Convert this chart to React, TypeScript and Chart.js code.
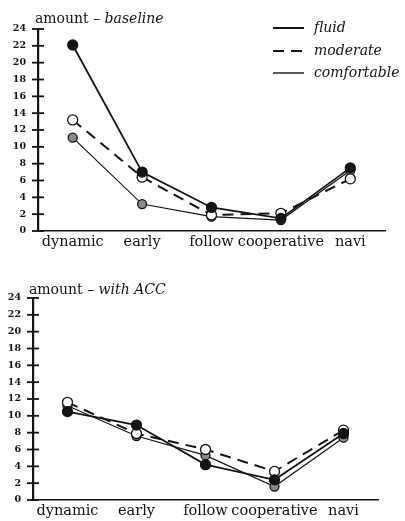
import React, { useEffect, useRef } from "react";
import { Chart, registerables } from "chart.js";

Chart.register(...registerables);

const categories = ["dynamic", "early", "follow", "cooperative", "navi"];
const yTicks = [0, 2, 4, 6, 8, 10, 12, 14, 16, 18, 20, 22, 24];
const seriesNames = ["fluid", "moderate", "comfortable"];

const baselineFluid = [22.1, 7.0, 2.8, 1.5, 7.5];
const baselineModerate = [13.2, 6.4, 1.9, 2.1, 6.2];
const baselineComfortable = [11.1, 3.2, 1.7, 1.3, 7.2];

const accFluid = [10.5, 8.9, 4.2, 2.4, 7.9];
const accModerate = [11.6, 7.9, 6.0, 3.4, 8.3];
const accComfortable = [11.2, 7.6, 5.3, 1.6, 7.4];

const SERIF = "'DejaVu Serif', 'Liberation Serif', serif";
const INK = "#141414";

type Style = { width: number; dash: number[]; fill: string; radius: number };
const styles: Style[] = [
  { width: 1.8, dash: [], fill: INK, radius: 5 },
  { width: 2, dash: [11, 7], fill: "#ffffff", radius: 5 },
  { width: 1.2, dash: [], fill: "#8a8a8a", radius: 4.5 },
];

type Cfg = {
  title: string;
  titleItalic: string;
  values: number[][];
  width: number;
  height: number;
  axisLeft: number;
  areaTop: number;
  areaBottom: number;
  areaRight: number;
  titleX: number;
  titleY: number;
  legend: boolean;
};

function LineChart({ cfg, top }: { cfg: Cfg; top: number }) {
  const ref = useRef<HTMLCanvasElement | null>(null);
  useEffect(() => {
    if (!ref.current) return;
    const decor = {
      id: "decor",
      afterDraw(chart: any) {
        const ctx = chart.ctx;
        const area = chart.chartArea;
        const ys = chart.scales.y;
        ctx.save();
        ctx.strokeStyle = INK;
        ctx.lineWidth = 1.8;
        for (const t of yTicks) {
          const py = ys.getPixelForValue(t);
          ctx.beginPath();
          ctx.moveTo(area.left - 6, py);
          ctx.lineTo(area.left + 6, py);
          ctx.stroke();
        }
        ctx.fillStyle = INK;
        ctx.textBaseline = "alphabetic";
        ctx.textAlign = "left";
        ctx.font = `14px ${SERIF}`;
        ctx.fillText(cfg.title, cfg.titleX, cfg.titleY);
        const w = ctx.measureText(cfg.title).width;
        ctx.font = `italic 14px ${SERIF}`;
        ctx.fillText(cfg.titleItalic, cfg.titleX + w, cfg.titleY);
        if (cfg.legend) {
          const baselines = [32, 55, 77];
          seriesNames.forEach((name, i) => {
            const by = baselines[i];
            ctx.beginPath();
            ctx.lineWidth = i === 2 ? 1.4 : 2;
            ctx.setLineDash(i === 1 ? [11, 7] : []);
            ctx.moveTo(273, by - 4);
            ctx.lineTo(304, by - 4);
            ctx.stroke();
            ctx.setLineDash([]);
            ctx.font = `italic 14px ${SERIF}`;
            ctx.fillText(name, 314, by);
          });
        }
        ctx.restore();
      },
    };
    const chart = new Chart(ref.current, {
      type: "line",
      data: {
        labels: categories,
        datasets: cfg.values.map((v, i) => ({
          label: seriesNames[i],
          data: v,
          borderColor: INK,
          borderWidth: styles[i].width,
          borderDash: styles[i].dash,
          pointRadius: styles[i].radius,
          pointBackgroundColor: styles[i].fill,
          pointBorderColor: INK,
          pointBorderWidth: 1.3,
          tension: 0,
          fill: false,
        })),
      },
      options: {
        responsive: false,
        animation: false,
        layout: {
          padding: {
            top: cfg.areaTop,
            left: 0,
            right: cfg.width - cfg.areaRight,
            bottom: 0,
          },
        },
        plugins: {
          legend: { display: false },
          title: { display: false },
          tooltip: { enabled: false },
        },
        scales: {
          x: {
            type: "category",
            offset: true,
            grid: { display: false, drawTicks: false },
            border: { display: true, color: INK, width: 1.6 },
            ticks: {
              color: INK,
              padding: 3,
              maxRotation: 0,
              autoSkip: false,
              font: { family: SERIF, size: 14.5 },
            },
            afterFit: (scale: any) => {
              scale.height = cfg.height - cfg.areaBottom;
            },
          },
          y: {
            type: "linear",
            min: 0,
            max: 24,
            grid: { display: false, drawTicks: false },
            border: { display: true, color: INK, width: 2.2 },
            ticks: {
              stepSize: 2,
              color: INK,
              padding: 12,
              font: { family: SERIF, size: 9.5, weight: "bold" },
            },
            afterFit: (scale: any) => {
              scale.width = cfg.axisLeft;
            },
          },
        },
      },
      plugins: [decor],
    } as any);
    return () => chart.destroy();
  }, [cfg]);
  return (
    <canvas
      ref={ref}
      width={cfg.width}
      height={cfg.height}
      style={{ position: "absolute", left: 0, top, width: cfg.width, height: cfg.height }}
    />
  );
}

const topCfg: Cfg = {
  title: "amount – ",
  titleItalic: "baseline",
  values: [baselineFluid, baselineModerate, baselineComfortable],
  width: 405,
  height: 265,
  axisLeft: 38,
  areaTop: 29,
  areaBottom: 231,
  areaRight: 385,
  titleX: 35,
  titleY: 23,
  legend: true,
};

const bottomCfg: Cfg = {
  title: "amount – ",
  titleItalic: "with ACC",
  values: [accFluid, accModerate, accComfortable],
  width: 405,
  height: 256,
  axisLeft: 33,
  areaTop: 33,
  areaBottom: 235,
  areaRight: 378,
  titleX: 29,
  titleY: 29,
  legend: false,
};

export default function App() {
  return (
    <div style={{ position: "absolute", left: 0, top: 0, width: 405, height: 521, background: "#fff" }}>
      <LineChart cfg={topCfg} top={0} />
      <LineChart cfg={bottomCfg} top={265} />
    </div>
  );
}
